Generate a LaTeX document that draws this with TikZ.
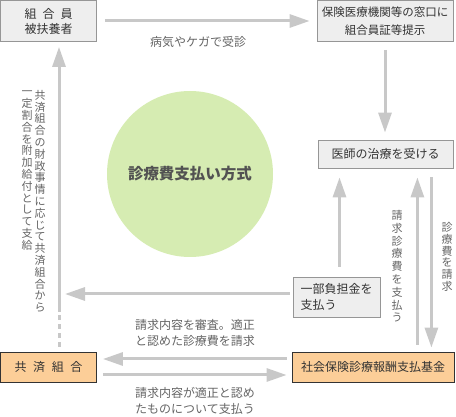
\documentclass[tikz,border=0pt]{standalone}
\usepackage{fontspec}
\setmainfont{Noto Sans CJK JP}
\usepackage{tikz}
\usepackage{xcolor}
\usetikzlibrary{arrows.meta, positioning, calc}
\definecolor{cLine}{RGB}{200,200,200}
\definecolor{cBoxGray}{RGB}{238,238,238}
\definecolor{cEdge}{RGB}{150,150,150}
\definecolor{cOrange}{RGB}{252,206,152}
\definecolor{cLeaf}{RGB}{214,236,178}
\definecolor{cText}{RGB}{51,51,51}
\definecolor{cLabel}{RGB}{100,100,100}
\ExplSyntaxOn
\NewDocumentCommand\tate{m}{
	\seq_clear:N \l_tmpa_seq
	\tl_map_inline:nn {#1} {\seq_put_right:Nn \l_tmpa_seq {##1}}
	\seq_use:Nn \l_tmpa_seq {\\}
}
\ExplSyntaxOff
\tikzset{
	graybox/.style  ={rectangle, draw=cEdge, fill=cBoxGray, line width=0.8pt, inner sep=0pt, align=center, text=cText, font=\fontsize{12}{15}\selectfont},
	orangebox/.style={rectangle, draw=cText, fill=cOrange, line width=0.8pt, inner sep=0pt, align=center, text=cText, font=\fontsize{12}{15}\selectfont},
	flow/.style     ={cLine, line width=3pt, -{Triangle[length=20pt, width=13pt]}},
	% labels beside the arrows
	lbl/.style      ={text=cLabel, align=center, inner sep=0pt, font=\fontsize{12}{15.5}\selectfont},
	tatelbl/.style  ={text=cLabel, align=center, inner sep=0pt, font=\fontsize{11}{11.8}\selectfont},
}
\begin{document}
\begin{tikzpicture}[x=1pt, y=-1pt]
	\useasboundingbox (0,0) rectangle (456,417);
	\node[circle, fill=cLeaf, minimum size=166pt, inner sep=0pt, text=cText!85, font=\fontsize{15.5}{18}\selectfont\bfseries] (way) at (190,174) {診療費支払い方式};
	\node[graybox, minimum width=96pt, minimum height=41pt] (mem) at (48.5,21) {組\hspace{0.5em}合\hspace{0.5em}員\\被扶養者};
	\node[graybox, minimum width=136pt, minimum height=41pt, font=\fontsize{11.5}{18}\selectfont] (win) at (385,21) {保険医療機関等の窓口に\\組合員証等提示};
	\node[graybox, minimum width=135pt, minimum height=28pt] (doc) at (385.5,154) {医師の治療を受ける};
	\node[graybox, minimum width=87pt, minimum height=40pt, align=left, font=\fontsize{12}{16}\selectfont] (pay) at (336.5,297) {一部負担金を\\支払う};
	\node[orangebox, minimum width=96pt, minimum height=30pt] (kyo) at (48.5,367) {共\hspace{0.55em}済\hspace{0.55em}組\hspace{0.55em}合};
	\node[orangebox, minimum width=162pt, minimum height=30pt] (fund) at (373,367) {社会保険診療報酬支払基金};
	\coordinate (rail) at (59,312);
	\draw[flow, shorten <=8pt, shorten >=7pt] (mem) -- (win);
	\draw[flow, shorten <=8pt, shorten >=7pt] (win.south) -- (win.south |- doc.north);
	\draw[flow, shorten <=10pt, shorten >=9pt] ([xshift=3pt]pay.north) -- ([xshift=3pt]pay.north |- doc.south);
	\draw[flow, shorten <=3pt, shorten >=6pt] ([yshift=3pt]pay.west) -- ([yshift=3pt]pay.west -| rail);
	\draw[flow, shorten >=5pt] (rail) -- (rail |- mem.south);
	\draw[cLine, line width=3pt, dash pattern=on 5pt off 4pt, shorten <=5pt] (rail |- kyo.north) -- (rail);
	\draw[flow, shorten <=7pt, shorten >=9pt] ([xshift=-36pt]doc.south east |- fund.north) -- ([xshift=-36pt]doc.south east);
	\draw[flow, shorten <=9pt, shorten >=4pt] ([xshift=-22pt]doc.south east) -- ([xshift=-22pt]doc.south east |- fund.north);
	\draw[flow, shorten <=5pt, shorten >=6pt] ([yshift=8pt]fund.west) -- ([yshift=8pt]fund.west -| kyo.east);
	\draw[flow, shorten <=6pt, shorten >=5pt] ([yshift=-8pt]kyo.east) -- ([yshift=-8pt]kyo.east -| fund.west);
	\node[lbl] (visit) at (198,42) {病気やケガで受診};
	\node[lbl] (check) at (195,333) {請求内容を審査。適正\\と認めた診療費を請求};
	\node[lbl] (settle) at (195,401) {請求内容が適正と認め\\たものについて支払う};
	\node[tatelbl, anchor=north] (extra) at (40,90) {\tate{共済組合の財政事情に応じて共済組合から}};
	\node[tatelbl, anchor=north] (share) at (27,91) {\tate{一定割合を附加給付として支給}};
	\node[tatelbl, anchor=north, font=\fontsize{11}{12.8}\selectfont] (paid) at (397,210) {\tate{請求診療費を支払う}};
	\node[tatelbl, anchor=north] (claim) at (447,222) {\tate{診療費を請求}};
\end{tikzpicture}
\end{document}
